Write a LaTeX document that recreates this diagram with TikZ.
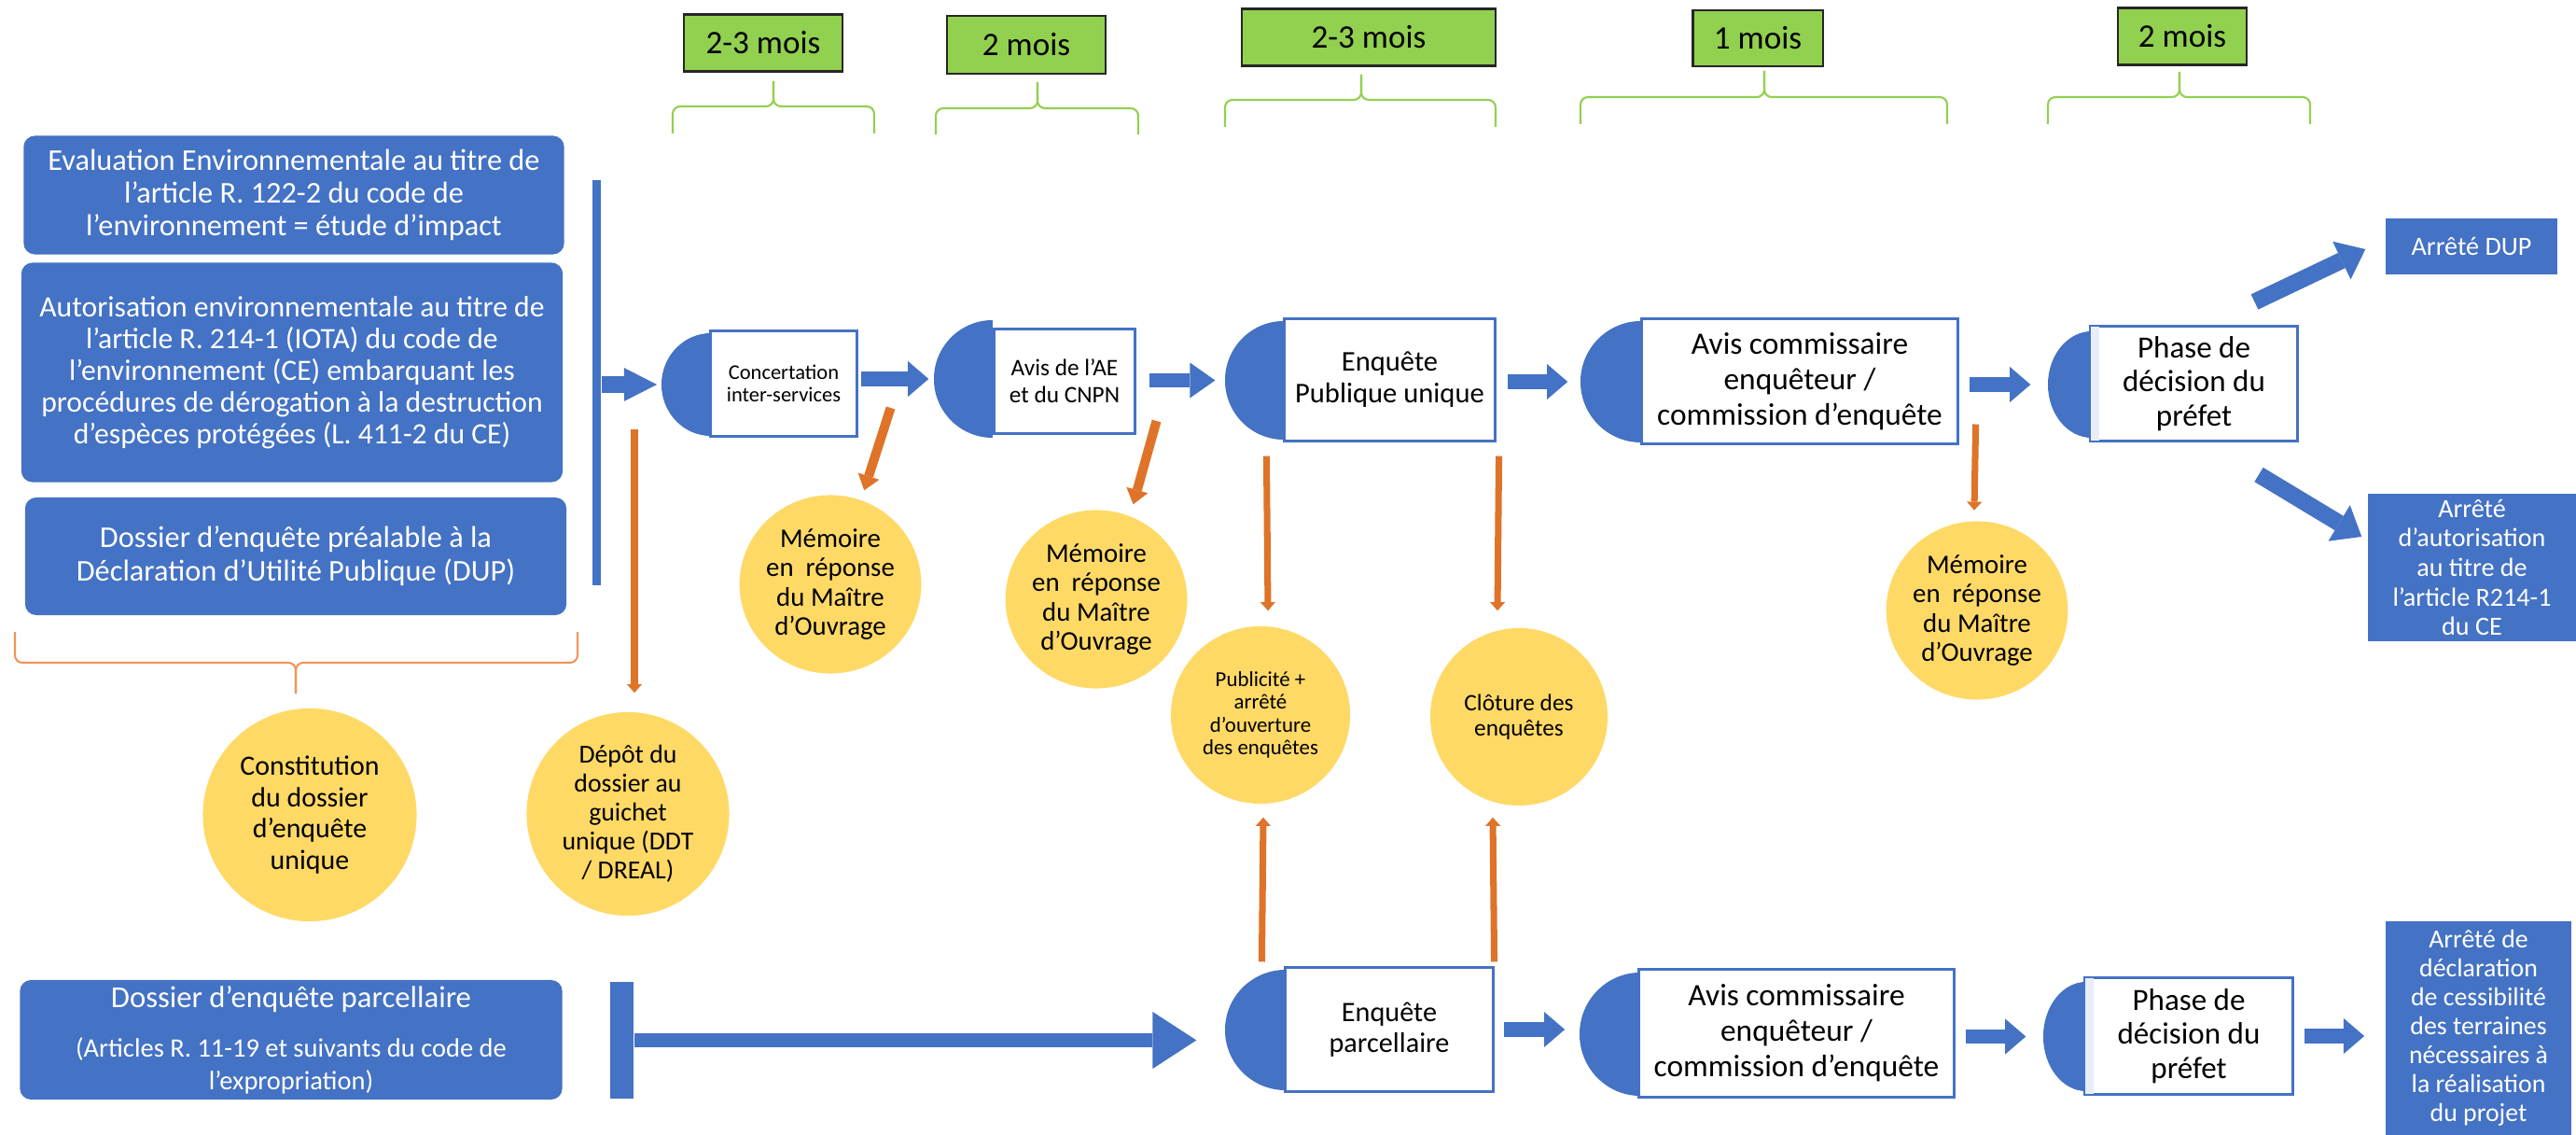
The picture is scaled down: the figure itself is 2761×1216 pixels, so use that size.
\documentclass[tikz,border=0pt]{standalone}
\usepackage{fontspec}
\setmainfont{Carlito}
\usetikzlibrary{shapes.geometric,arrows.meta}

\definecolor{bleu}{HTML}{4472C4}
\definecolor{bleupale}{HTML}{E8EEF8}
\definecolor{vert}{HTML}{92D050}
\definecolor{jaune}{HTML}{FFD966}
\definecolor{orangef}{HTML}{DE7329}
\definecolor{orangeclair}{HTML}{F2955A}

\newcommand{\taille}[2]{\fontsize{#1}{#2}\selectfont}

\begin{document}
\begin{tikzpicture}[x=0.01cm, y=-0.01cm,
  dossier/.style={rectangle, rounded corners=0.12cm, fill=bleu, text=white, inner sep=0pt, align=center},
  arrete/.style={rectangle, fill=bleu, text=white, inner sep=0pt, align=center, font=\taille{8}{9}},
  etape/.style={rectangle, draw=bleu, line width=0.85pt, fill=white, inner sep=0pt, align=center},
  demi/.style={ellipse, inner sep=0pt, path picture={\fill[bleu] (path picture bounding box.north west) rectangle (path picture bounding box.south);}},
  bulle/.style={ellipse, fill=jaune, inner sep=0pt, align=center},
  duree/.style={rectangle, fill=vert, draw=black!85, line width=0.6pt, inner sep=0pt, font=\taille{10}{12}},
  barre/.style={rectangle, fill=bleu, inner sep=0pt},
  fleche/.style={draw=bleu, line width=4.5pt, -{Triangle[width=10.8pt, length=6.3pt, line width=0pt]}},
  fleorange/.style={draw=orangef, line width=2pt, -{Triangle[width=4.6pt, length=2.6pt, line width=0pt]}},
  accolade/.style={draw=vert, line width=0.6pt, rounded corners=0.08cm},
]
\useasboundingbox (0,0) rectangle (2761,1216);

\node[duree, minimum width=1.70cm, minimum height=0.61cm] (d1) at (818,46) {2-3 mois};
\node[duree, minimum width=1.70cm, minimum height=0.62cm] (d2) at (1100,48) {2 mois};
\node[duree, minimum width=2.71cm, minimum height=0.61cm] (d3) at (1467,40) {2-3 mois};
\node[duree, minimum width=1.39cm, minimum height=0.60cm] (d4) at (1884,41) {1 mois};
\node[duree, minimum width=1.38cm, minimum height=0.61cm] (d5) at (2339,39) {2 mois};

\draw[accolade] (721,143) |- (829,114) -- (829,87);
\draw[accolade] (937,143) |- (829,114) -- (829,87);
\draw[accolade] (1003,144) |- (1112,116) -- (1112,88);
\draw[accolade] (1220,144) |- (1112,116) -- (1112,88);
\draw[accolade] (1313,136) |- (1459,107) -- (1459,80);
\draw[accolade] (1603,136) |- (1459,107) -- (1459,80);
\draw[accolade] (1694,133) |- (1891,104) -- (1891,76);
\draw[accolade] (2087,133) |- (1891,104) -- (1891,76);
\draw[accolade] (2195,133) |- (2336,104) -- (2336,77);
\draw[accolade] (2476,133) |- (2336,104) -- (2336,77);
\draw[accolade, draw=orangeclair] (16,677) |- (317,710) -- (317,743);
\draw[accolade, draw=orangeclair] (619,677) |- (317,710) -- (317,743);

\node[dossier, minimum width=5.79cm, minimum height=1.27cm, font=\taille{9.2}{9.9}] (eval) at (315,209)
  {Evaluation Environnementale au titre de\\ l’article R. 122-2 du code de\\ l’environnement = étude d’impact};
\node[dossier, minimum width=5.80cm, minimum height=2.35cm, font=\taille{9}{9.7}] (autor) at (313,399)
  {Autorisation environnementale au titre de\\ l’article R. 214-1 (IOTA) du code de\\ l’environnement (CE) embarquant les\\ procédures de dérogation à la destruction\\ d’espèces protégées (L. 411-2 du CE)};
\node[dossier, minimum width=5.80cm, minimum height=1.26cm, font=\taille{9.2}{10.3}] (dup) at (317,596)
  {Dossier d’enquête préalable à la\\ Déclaration d’Utilité Publique (DUP)};
\node[dossier, minimum width=5.81cm, minimum height=1.28cm, font=\taille{9.3}{10}] (parc) at (312,1114)
  {Dossier d’enquête parcellaire\\[5pt] \taille{8.1}{8.8}(Articles R. 11-19 et suivants du code de\\ \taille{8.1}{8.8}l’expropriation)};

\node[barre, minimum width=0.09cm, minimum height=4.34cm] (barre) at (639.5,410) {};
\node[barre, minimum width=0.25cm, minimum height=1.25cm] (barreT) at (666.5,1114.5) {};

\node[demi, minimum width=1.06cm, minimum height=1.10cm] (conc-d) at (762,412) {};
\node[etape, minimum width=1.56cm, minimum height=1.12cm, font=\taille{6.4}{6.9}] (conc) at (840,411) {Concertation\\ inter-services};
\node[demi, minimum width=1.26cm, minimum height=1.26cm] (ae-d) at (1064,406) {};
\node[etape, minimum width=1.50cm, minimum height=1.11cm, font=\taille{7.2}{8.2}] (ae) at (1141,408.5) {Avis de l’AE\\ et du CNPN};
\node[demi, minimum width=1.26cm, minimum height=1.27cm] (ep-d) at (1376,407.5) {};
\node[etape, minimum width=2.25cm, minimum height=1.30cm, font=\taille{8.7}{9.6}] (ep) at (1489.5,407) {Enquête\\ Publique unique};
\node[demi, minimum width=1.30cm, minimum height=1.30cm] (ac-d) at (1759,409) {};
\node[etape, minimum width=3.38cm, minimum height=1.33cm, font=\taille{9.5}{10.8}] (ac) at (1929,408.5) {Avis commissaire\\ enquêteur /\\ commission d’enquête};
\node[demi, minimum width=0.94cm, minimum height=1.14cm] (ph-d) at (2242,412) {};
\node[etape, minimum width=2.21cm, minimum height=1.22cm, font=\taille{9.4}{10.3}] (ph) at (2351.5,411) {Phase de\\ décision du\\ préfet};
\fill[bleupale] ([shift={(1.5,1.5)}]ph.north west) rectangle ([shift={(11,-1.5)}]ph.south west);

\node[demi, minimum width=1.30cm, minimum height=1.29cm] (epa-d) at (1378,1103.5) {};
\node[etape, minimum width=2.22cm, minimum height=1.32cm, font=\taille{8.6}{9.4}] (epa) at (1489,1103) {Enquête\\ parcellaire};
\node[demi, minimum width=1.30cm, minimum height=1.32cm] (ac2-d) at (1758,1108) {};
\node[etape, minimum width=3.37cm, minimum height=1.36cm, font=\taille{9.5}{10.8}] (ac2) at (1925.5,1107) {Avis commissaire\\ enquêteur /\\ commission d’enquête};
\node[demi, minimum width=0.92cm, minimum height=1.17cm] (ph2-d) at (2236,1110.5) {};
\node[etape, minimum width=2.22cm, minimum height=1.24cm, font=\taille{9.4}{10.3}] (ph2) at (2346,1110) {Phase de\\ décision du\\ préfet};
\fill[bleupale] ([shift={(1.5,1.5)}]ph2.north west) rectangle ([shift={(11,-1.5)}]ph2.south west);

\node[bulle, minimum width=2.29cm, minimum height=2.28cm, font=\taille{8.5}{9.5}] (constit) at (332,873) {Constitution\\ du dossier\\ d’enquête\\ unique};
\node[bulle, minimum width=2.17cm, minimum height=2.18cm, font=\taille{7.9}{8.8}] (depot) at (673,872) {Dépôt du\\ dossier au\\ guichet\\ unique (DDT\\ / DREAL)};
\node[bulle, minimum width=1.91cm, minimum height=1.91cm, font=\taille{8.2}{8.9}] (mem1) at (890,626) {Mémoire\\ en~ réponse\\ du Maître\\ d’Ouvrage};
\node[bulle, minimum width=1.90cm, minimum height=1.91cm, font=\taille{8.2}{8.9}] (mem2) at (1175,642) {Mémoire\\ en~ réponse\\ du Maître\\ d’Ouvrage};
\node[bulle, minimum width=1.92cm, minimum height=1.90cm, font=\taille{6.5}{6.9}] (pub) at (1351,766) {Publicité +\\ arrêté\\ d’ouverture\\ des enquêtes};
\node[bulle, minimum width=1.90cm, minimum height=1.90cm, font=\taille{7.2}{7.8}] (clot) at (1628,768) {Clôture des\\ enquêtes};
\node[bulle, minimum width=1.90cm, minimum height=1.91cm, font=\taille{8.2}{8.9}] (mem3) at (2119,654) {Mémoire\\ en~ réponse\\ du Maître\\ d’Ouvrage};

\node[arrete, minimum width=1.84cm, minimum height=0.60cm] (adup) at (2649,264) {Arrêté DUP};
\node[arrete, minimum width=2.23cm, minimum height=1.58cm] (aaut) at (2649.5,608) {Arrêté\\ d’autorisation\\ au titre de\\ l’article R214-1\\ du CE};
\node[arrete, minimum width=1.99cm, minimum height=2.29cm, font=\taille{7.9}{8.8}] (adecl) at (2656.5,1101.5) {Arrêté de\\ déclaration\\ de cessibilité\\ des terraines\\ nécessaires à\\ la réalisation\\ du projet};

\draw[fleche, line width=5pt, -{Triangle[width=10.2pt, length=10pt, line width=0pt]}, shorten >=1.2pt] (barre.east |- conc-d.west) -- (conc-d.west);
\draw[fleche, shorten <=1.1pt, shorten >=1.4pt] (conc.east |- ae-d.west) -- (ae-d.west);
\draw[fleche, -{Triangle[width=10.8pt, length=7.7pt, line width=0pt]}, shorten <=4pt, shorten >=2.8pt] (ae.east |- ep-d.west) -- (ep-d.west);
\draw[fleche, shorten <=3.4pt, shorten >=3.7pt] (ep.east |- ac-d.west) -- (ac-d.west);
\draw[fleche, shorten <=3.1pt, shorten >=5.1pt] (ac.east |- ph-d.west) -- (ph-d.west);
\draw[fleche, line width=5.1pt, -{Triangle[width=12.8pt, length=8pt, line width=0pt]}] ([shift={(65,-25)}]ph.north) -- ([shift={(-21,3)}]adup.west);
\draw[fleche, line width=5.1pt, -{Triangle[width=12.8pt, length=8pt, line width=0pt]}] ([shift={(69.5,35)}]ph.south) -- ([shift={(-6,-33)}]aaut.west);
\draw[fleche, line width=4pt, -{Triangle[width=17.4pt, length=13.4pt, line width=0pt]}, shorten >=8.5pt] (barreT.east) -- (barreT.east -| epa-d.west);
\draw[fleche, shorten <=3.1pt, shorten >=4.3pt] (epa.east) -- (epa.east -| ac2-d.west);
\draw[fleche, shorten <=3.1pt, shorten >=5.1pt] (ac2.east |- ph2-d.west) -- (ph2-d.west);
\draw[fleche, shorten <=3.1pt, shorten >=6.3pt] (ph2.east) -- (ph2.east -| adecl.west);

\draw[fleorange, line width=2.85pt, -{Triangle[width=6.8pt, length=4.5pt, line width=0pt]}, shorten >=3pt] ([shift={(35,26)}]conc.east) -- (mem1.70);
\draw[fleorange, line width=2.85pt, -{Triangle[width=6.8pt, length=4.5pt, line width=0pt]}, shorten >=3.6pt] ([shift={(22,42.5)}]ae.east) -- (mem2.68);
\coordinate (depot-haut) at (680,460);
\draw[fleorange, shorten >=5.7pt] (depot-haut) -- (depot-haut |- depot.north);
\draw[fleorange] ([shift={(-18,15)}]ep.south west) -- ([shift={(8,-16)}]pub.north);
\draw[fleorange] ([shift={(3,15)}]ep.south east) -- ([shift={(-23,-18)}]clot.north);
\draw[fleorange] ([shift={(-24,-5)}]epa.north west) -- ([shift={(3,14)}]pub.south);
\draw[fleorange] ([shift={(0,-5)}]epa.north east) -- ([shift={(-28,12)}]clot.south);
\draw[fleorange] ([shift={(18,-22)}]ac.south east) -- ([shift={(-3,-11)}]mem3.north);
\end{tikzpicture}
\end{document}
